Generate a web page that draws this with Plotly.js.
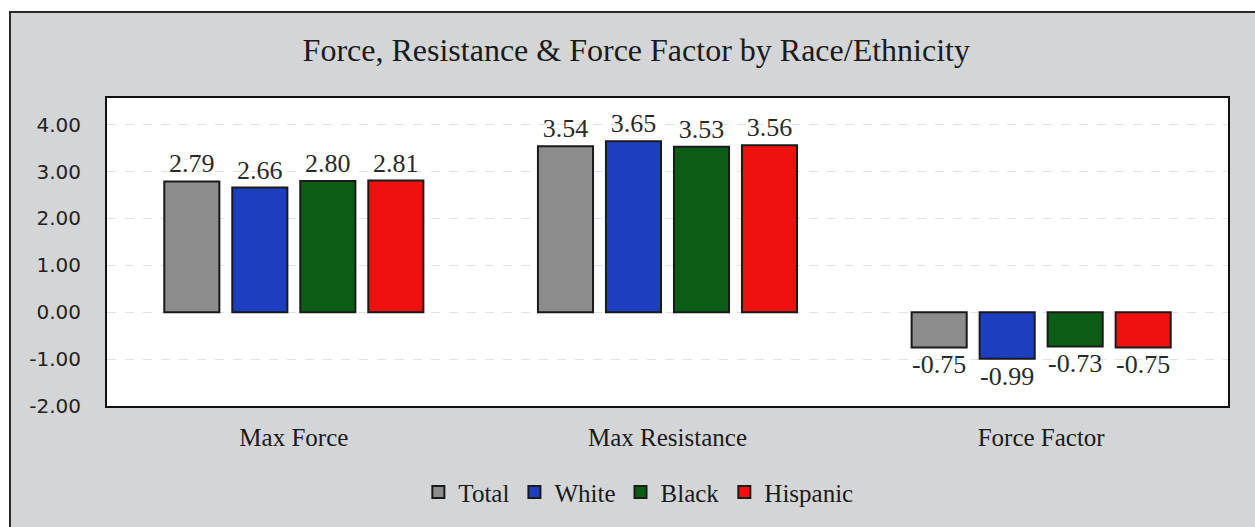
<!DOCTYPE html>
<html>
<head>
<meta charset="utf-8">
<script src="https://cdn.plot.ly/plotly-3.0.1.min.js"></script>
<style>
html,body{margin:0;padding:0;background:#fff;}
#box{position:absolute;left:9px;top:11px;width:1250px;height:520px;border:2px solid #2a2a2a;background:#d4d5d6;}
#chart{position:absolute;left:0;top:0;width:1255px;height:527px;}
</style>
</head>
<body>
<div id="box"></div>
<div id="chart"></div>
<script>
const categories = ["Max Force", "Max Resistance", "Force Factor"];
const seriesNames = ["Total", "White", "Black", "Hispanic"];
const total = [2.79, 3.54, -0.75];
const white = [2.66, 3.65, -0.99];
const black = [2.80, 3.53, -0.73];
const hispanic = [2.81, 3.56, -0.75];
const yTicks = [-2, -1, 0, 1, 2, 3, 4];
const yTickLabels = ["-2.00", "-1.00", "0.00", "1.00", "2.00", "3.00", "4.00"];

const colors = ["#8c8c8c", "#1c3fc0", "#0b5d16", "#f01010"];
const allSeries = [total, white, black, hispanic];
const serif = "Liberation Serif, Times New Roman, serif";

const traces = allSeries.map((vals, i) => ({
  type: "bar",
  name: seriesNames[i],
  x: categories,
  y: vals,
  text: vals.map(v => v.toFixed(2)),
  textposition: "outside",
  cliponaxis: false,
  textfont: {family: serif, size: 26, color: "#2a2a2a"},
  marker: {color: colors[i], line: {color: "#1a1a1a", width: 2}},
  hoverinfo: "x+y"
}));

const layout = {
  width: 1255, height: 527,
  paper_bgcolor: "rgba(0,0,0,0)",
  plot_bgcolor: "#ffffff",
  margin: {l: 107, r: 27, t: 98, b: 121},
  font: {family: serif, color: "#1a1a1a"},
  title: {text: "Force, Resistance & Force Factor by Race/Ethnicity",
          font: {family: serif, size: 32, color: "#1a1a1a"},
          x: 0.507, xanchor: "center", y: 0.905, yanchor: "middle", xref: "container", yref: "container"},
  barmode: "group",
  bargap: 0.272,
  bargroupgap: 0.19,
  xaxis: {
    showline: true, mirror: true, linecolor: "#111", linewidth: 2,
    ticks: "", ticklabelstandoff: 8,
    tickfont: {family: serif, size: 25, color: "#1a1a1a"},
    showgrid: false
  },
  yaxis: {
    range: [-2, 4.57],
    tickvals: yTicks, ticktext: yTickLabels,
    showline: true, mirror: true, linecolor: "#111", linewidth: 2,
    ticks: "", ticklabelstandoff: 20,
    tickfont: {family: "DejaVu Sans, Verdana, sans-serif", size: 20, color: "#222"},
    showgrid: true, gridcolor: "#e2e2e2", gridwidth: 1, griddash: "dash",
    zeroline: false
  },
  legend: {
    orientation: "h", x: 0.474, xanchor: "center", y: -0.28, yanchor: "middle",
    font: {family: serif, size: 25, color: "#1a1a1a"},
    bgcolor: "rgba(0,0,0,0)", itemwidth: 30, traceorder: "normal"
  },
  showlegend: true
};

Plotly.newPlot("chart", traces, layout, {displayModeBar: false});
</script>
</body>
</html>
